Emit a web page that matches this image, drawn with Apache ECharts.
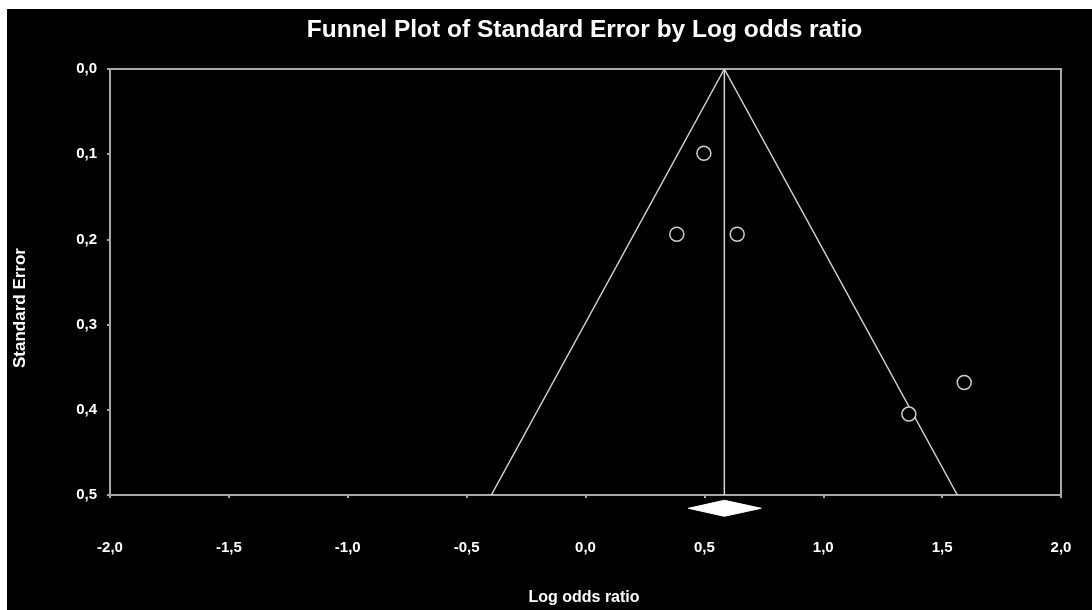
<!DOCTYPE html>
<html>
<head>
<meta charset="utf-8">
<script src="https://cdn.jsdelivr.net/npm/echarts@6/dist/echarts.min.js"></script>
<style>
  html, body { margin: 0; padding: 0; background: #ffffff; }
  #chart { position: absolute; left: 7px; top: 9px; width: 1085px; height: 601px; background: #000; }
</style>
</head>
<body>
<div id="chart"></div>
<script>
// ---- data ----
const titleText = 'Funnel Plot of Standard Error by Log odds ratio';
const xName = 'Log odds ratio';
const yName = 'Standard Error';
const xTickValues = [-2.0, -1.5, -1.0, -0.5, 0.0, 0.5, 1.0, 1.5, 2.0];
const xTickLabels = ['-2,0', '-1,5', '-1,0', '-0,5', '0,0', '0,5', '1,0', '1,5', '2,0'];
const yTickValues = [0.0, 0.1, 0.2, 0.3, 0.4, 0.5];
const yTickLabels = ['0,0', '0,1', '0,2', '0,3', '0,4', '0,5'];
const studyLogOR = [0.498, 0.384, 0.638, 1.360, 1.593];
const studySE = [0.099, 0.194, 0.194, 0.405, 0.368];
const pooledEffect = 0.584;
const pooledCI = [0.433, 0.739];
const funnelLeft = [[0.584, 0.0], [-0.396, 0.5]];
const funnelRight = [[0.584, 0.0], [1.564, 0.5]];
const centerLine = [[0.584, 0.0], [0.584, 0.5]];
const diamondY = 0.5156;
const diamondHalfHeight = 0.0094;

// ---- chart ----
const FONT = 'Liberation Sans, Arial, sans-serif';
const chart = echarts.init(document.getElementById('chart'), null, { renderer: 'canvas' });

function lookup(vals, labels, v) {
  for (let i = 0; i < vals.length; i++) if (Math.abs(vals[i] - v) < 1e-9) return labels[i];
  return '';
}

const lineStyle = { color: '#d4d4d4', width: 1.5 };

const option = {
  backgroundColor: '#000',
  animation: false,
  grid: { left: 103, top: 60, width: 951, height: 426, show: true, borderColor: '#a8a8a8', borderWidth: 2, backgroundColor: 'transparent' },
  xAxis: {
    type: 'value', min: -2, max: 2, interval: 0.5,
    axisLine: { show: true, onZero: false, lineStyle: { color: '#a8a8a8', width: 2 } },
    axisTick: { show: true, length: 3, inside: false, lineStyle: { color: '#a8a8a8', width: 2 } },
    splitLine: { show: false },
    axisLabel: { color: '#fff', fontFamily: FONT, fontWeight: 'bold', fontSize: 15, margin: 45,
      formatter: v => lookup(xTickValues, xTickLabels, v) }
  },
  yAxis: {
    type: 'value', min: 0, max: 0.5, interval: 0.1, inverse: true,
    axisLine: { show: true, onZero: false, lineStyle: { color: '#a8a8a8', width: 2 } },
    axisTick: { show: true, length: 3, lineStyle: { color: '#a8a8a8', width: 2 } },
    splitLine: { show: false },
    axisLabel: { color: '#fff', fontFamily: FONT, fontWeight: 'bold', fontSize: 15, margin: 13,
      formatter: v => lookup(yTickValues, yTickLabels, v) }
  },
  graphic: [
    { type: 'text', x: 577.5, y: 21, style: { text: titleText, fill: '#fff', font: 'bold 24.5px ' + FONT, textAlign: 'center', textVerticalAlign: 'middle' } },
    { type: 'text', x: 577, y: 589, style: { text: xName, fill: '#fff', font: 'bold 16px ' + FONT, textAlign: 'center', textVerticalAlign: 'middle' } },
    { type: 'text', x: 13, y: 299, rotation: Math.PI / 2, style: { text: yName, fill: '#fff', font: 'bold 17px ' + FONT, textAlign: 'center', textVerticalAlign: 'middle' } }
  ],
  series: [
    { type: 'line', data: funnelLeft, showSymbol: false, symbol: 'none', lineStyle: lineStyle, z: 2 },
    { type: 'line', data: funnelRight, showSymbol: false, symbol: 'none', lineStyle: lineStyle, z: 2 },
    { type: 'line', data: centerLine, showSymbol: false, symbol: 'none', lineStyle: lineStyle, z: 2 },
    {
      type: 'scatter',
      data: studyLogOR.map((x, i) => [x, studySE[i]]),
      symbol: 'circle', symbolSize: 14,
      itemStyle: { color: '#000', borderColor: '#d0d0d0', borderWidth: 1.5, opacity: 1 },
      z: 5
    },
    {
      type: 'custom',
      clip: false,
      data: [[pooledCI[0], pooledEffect, pooledCI[1], diamondY, diamondHalfHeight]],
      renderItem: function (params, api) {
        const lo = api.value(0), mid = api.value(1), hi = api.value(2), yc = api.value(3), h = api.value(4);
        const pts = [api.coord([lo, yc]), api.coord([mid, yc - h]), api.coord([hi, yc]), api.coord([mid, yc + h])];
        return { type: 'polygon', shape: { points: pts }, style: { fill: '#ffffff', stroke: '#ffffff', lineWidth: 1 } };
      },
      z: 6
    }
  ]
};
chart.setOption(option);
</script>
</body>
</html>
